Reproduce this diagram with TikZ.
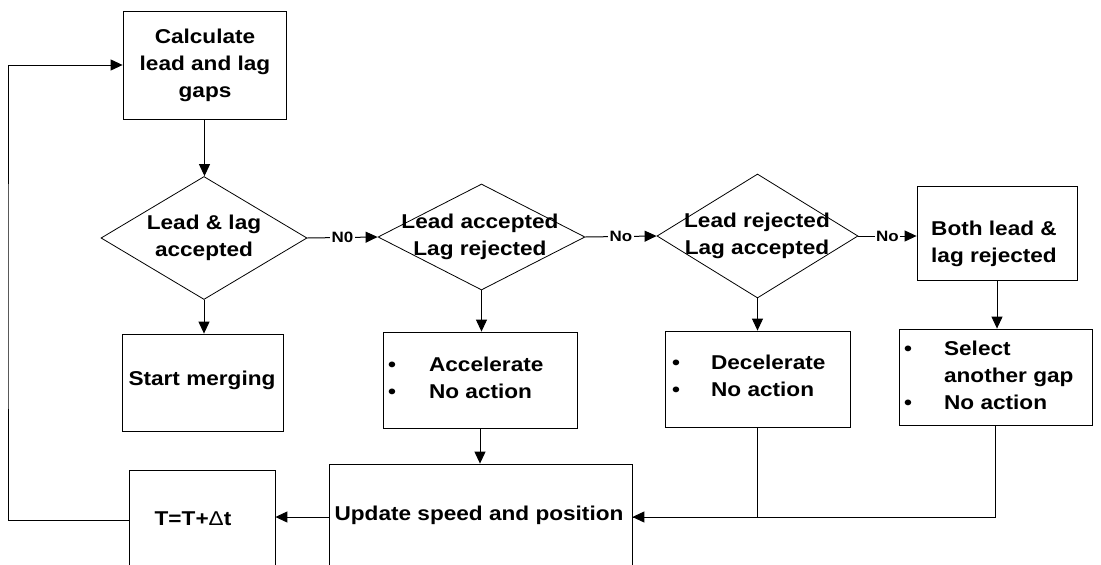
\documentclass[tikz,border=0pt]{standalone}
\usepackage{fontspec}
\setmainfont{Liberation Sans}[FakeStretch=1.13]
\usetikzlibrary{shapes.geometric,arrows.meta,calc}
\begin{document}
\begin{tikzpicture}[x=1pt,y=-1pt,
  box/.style={draw, line width=0.8pt, rectangle, inner sep=0pt},
  dia/.style={draw, line width=0.8pt, diamond, inner sep=0pt},
  txt/.style={font=\bfseries\fontsize{20}{27}\selectfont, align=center, inner sep=0pt},
  lbl/.style={font=\bfseries\fontsize{15}{18}\selectfont, fill=white, inner sep=1.5pt},
  conn/.style={line width=1pt},
  arr/.style={line width=1pt, -{Triangle[length=12pt,width=11pt]}}]
\useasboundingbox (0,0) rectangle (1101,565);
% boxes
\node[box, minimum width=163pt, minimum height=108pt] (calc) at (204.5,65) {};
\node[txt] (calct) at (205,65) {Calculate\\lead and lag\\gaps};
\node[dia, minimum width=206pt, minimum height=123pt] (d1) at (204,238) {};
\node[txt] (d1t) at (204,238) {Lead \& lag\\accepted};
\node[dia, minimum width=207pt, minimum height=106pt] (d2) at (481.5,237) {};
\node[txt] (d2t) at (480,236.5) {Lead accepted\\Lag rejected};
\node[dia, minimum width=201pt, minimum height=124pt] (d3) at (757.5,236) {};
\node[txt] (d3t) at (757,236) {Lead rejected\\Lag accepted};
\node[box, minimum width=160pt, minimum height=94pt] (both) at (997,233) {};
\node[txt] (botht) at (994,243.5) {Both lead \&\\lag rejected};
\node[box, minimum width=161pt, minimum height=97pt] (merge) at (202.5,382.5) {};
\node[txt] (merget) at (202,380) {Start merging};
\node[box, minimum width=194pt, minimum height=96pt] (acc) at (480,380) {};
\node[txt, anchor=west] (acct) at (388,380) {\begin{tabular}{@{}l@{\hspace{33pt}}l@{}}\textbullet & Accelerate\\\textbullet & No action\end{tabular}};
\node[box, minimum width=185pt, minimum height=96pt] (dec) at (757.5,379) {};
\node[txt, anchor=west] (dect) at (672,378) {\begin{tabular}{@{}l@{\hspace{31pt}}l@{}}\textbullet & Decelerate\\\textbullet & No action\end{tabular}};
\node[box, minimum width=193pt, minimum height=96pt] (sel) at (995.5,377) {};
\node[txt, anchor=west] (selt) at (904,377) {\begin{tabular}{@{}l@{\hspace{32pt}}l@{}}\textbullet & Select\\ & another gap\\\textbullet & No action\end{tabular}};
\node[box, minimum width=303pt, minimum height=106pt] (upd) at (480.5,517) {};
\node[txt] (updt) at (479,515) {Update speed and position};
\node[box, minimum width=146pt, minimum height=100pt] (tbox) at (202,520) {};
\node[txt] (tboxt) at (193,519) {T=T+{\mdseries Δ}t};
\coordinate (lp) at (8,300);
% connectors
\draw[arr] (calc.south) -- (calc.south |- d1.north);
\draw[arr] (d1.east) -- node[lbl] {N0} (d2.west);
\draw[arr] (d2.east) -- node[lbl] {No} (d3.west);
\draw[arr] (d3.east) -- node[lbl] {No} (d3.east -| both.west);
\draw[arr] (d1.south) -- (d1.south |- merge.north);
\draw[arr] (d2.south) -- (d2.south |- acc.north);
\draw[arr] (d3.south) -- (d3.south |- dec.north);
\draw[arr] (both.south) -- (both.south |- sel.north);
\draw[arr] (acc.south) -- (acc.south |- upd.north);
\draw[conn] (dec.south) |- (upd.east);
\draw[arr] (sel.south) |- (upd.east);
\draw[arr] (upd.west) -- (upd.west -| tbox.east);
\draw[arr] (tbox.west) -| (lp) |- (calc.west);
\end{tikzpicture}
\end{document}
